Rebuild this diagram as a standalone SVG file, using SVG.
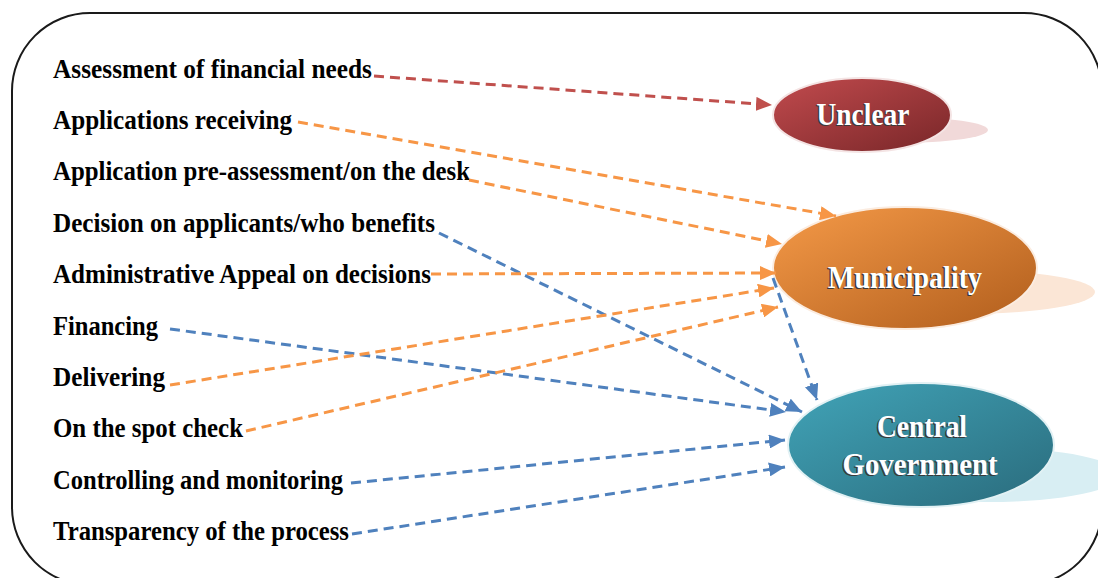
<svg xmlns="http://www.w3.org/2000/svg" width="1098" height="578" viewBox="0 0 1098 578">
<style>
.lbl{font-family:"Liberation Serif","Times New Roman",serif;font-weight:bold;font-size:27px;fill:#000}
.nt{font-family:"Liberation Serif","Times New Roman",serif;font-weight:bold;font-size:31px;text-anchor:middle}
.ns{fill:#3a3a3a}
.nw{fill:#ffffff}
.c{fill:none;stroke-width:3;stroke-dasharray:10 6}
.r{stroke:#c0504d}
.o{stroke:#f79646}
.b{stroke:#4f81bd}
</style>
<defs>
<marker id="ar" viewBox="0 0 16 14" refX="16" refY="7" markerWidth="16" markerHeight="14" markerUnits="userSpaceOnUse" orient="auto"><path d="M0,0 L16,7 L0,14 z" fill="#c0504d"/></marker>
<marker id="ao" viewBox="0 0 16 14" refX="16" refY="7" markerWidth="16" markerHeight="14" markerUnits="userSpaceOnUse" orient="auto"><path d="M0,0 L16,7 L0,14 z" fill="#f79646"/></marker>
<marker id="ab" viewBox="0 0 16 14" refX="16" refY="7" markerWidth="16" markerHeight="14" markerUnits="userSpaceOnUse" orient="auto"><path d="M0,0 L16,7 L0,14 z" fill="#4f81bd"/></marker>
<linearGradient id="gr" x1="0" y1="0" x2="1" y2="1"><stop offset="0" stop-color="#c24b4e"/><stop offset="1" stop-color="#782628"/></linearGradient>
<linearGradient id="go" x1="0" y1="0" x2="1" y2="1"><stop offset="0" stop-color="#f59a48"/><stop offset="1" stop-color="#b05d1c"/></linearGradient>
<linearGradient id="gb" x1="0" y1="0" x2="1" y2="1"><stop offset="0" stop-color="#41a4b8"/><stop offset="1" stop-color="#2a6b7c"/></linearGradient>
</defs>
<rect x="12" y="13" width="1090" height="572" rx="78" ry="78" fill="#ffffff" stroke="#1a1a1a" stroke-width="2"/>
<g id="labels">
<text class="lbl" x="53" y="78" textLength="319" lengthAdjust="spacingAndGlyphs">Assessment of financial needs</text>
<text class="lbl" x="53" y="129" textLength="239" lengthAdjust="spacingAndGlyphs">Applications receiving</text>
<text class="lbl" x="53" y="180" textLength="417" lengthAdjust="spacingAndGlyphs">Application pre-assessment/on the desk</text>
<text class="lbl" x="53" y="232" textLength="382" lengthAdjust="spacingAndGlyphs">Decision on applicants/who benefits</text>
<text class="lbl" x="53" y="283" textLength="378" lengthAdjust="spacingAndGlyphs">Administrative Appeal on decisions</text>
<text class="lbl" x="53" y="335" textLength="105" lengthAdjust="spacingAndGlyphs">Financing</text>
<text class="lbl" x="53" y="386" textLength="112" lengthAdjust="spacingAndGlyphs">Delivering</text>
<text class="lbl" x="53" y="437" textLength="190" lengthAdjust="spacingAndGlyphs">On the spot check</text>
<text class="lbl" x="53" y="489" textLength="290" lengthAdjust="spacingAndGlyphs">Controlling and monitoring</text>
<text class="lbl" x="53" y="540" textLength="296" lengthAdjust="spacingAndGlyphs">Transparency of the process</text>
</g>
<g id="node-unclear">
<ellipse cx="898" cy="130" rx="90" ry="13" fill="#f1d9d9"/>
<ellipse cx="862" cy="115" rx="89" ry="37" fill="url(#gr)" stroke="#f4e4e4" stroke-width="2"/>
<text class="nt ns" x="861.5" y="126" textLength="93" lengthAdjust="spacingAndGlyphs">Unclear</text>
<text class="nt nw" x="863" y="125" textLength="93" lengthAdjust="spacingAndGlyphs">Unclear</text>
</g>
<g id="node-municipality">
<ellipse cx="965" cy="292" rx="130" ry="22" fill="#fbe6d6"/>
<ellipse cx="905" cy="268" rx="132" ry="61" fill="url(#go)" stroke="#fbece0" stroke-width="2"/>
<text class="nt ns" x="903.5" y="289" textLength="154" lengthAdjust="spacingAndGlyphs">Municipality</text>
<text class="nt nw" x="905" y="288" textLength="154" lengthAdjust="spacingAndGlyphs">Municipality</text>
</g>
<g id="node-central">
<ellipse cx="990" cy="475" rx="130" ry="27" fill="#d8eef3"/>
<ellipse cx="921" cy="445" rx="133" ry="62" fill="url(#gb)" stroke="#e2f1f4" stroke-width="2"/>
<text class="nt ns" x="920.5" y="438" textLength="90" lengthAdjust="spacingAndGlyphs">Central</text>
<text class="nt nw" x="922" y="437" textLength="90" lengthAdjust="spacingAndGlyphs">Central</text>
<text class="nt ns" x="918.5" y="476" textLength="155" lengthAdjust="spacingAndGlyphs">Government</text>
<text class="nt nw" x="920" y="475" textLength="155" lengthAdjust="spacingAndGlyphs">Government</text>
</g>
<g id="connectors">
<line class="c r" x1="374" y1="76" x2="772" y2="105" marker-end="url(#ar)"/>
<line class="c o" x1="298" y1="122" x2="836" y2="216" marker-end="url(#ao)"/>
<line class="c o" x1="469" y1="180" x2="782" y2="244" marker-end="url(#ao)"/>
<line class="c b" x1="439" y1="233" x2="802" y2="412" marker-end="url(#ab)"/>
<line class="c o" x1="431" y1="274" x2="776" y2="273" marker-end="url(#ao)"/>
<line class="c b" x1="170" y1="329" x2="786" y2="412" marker-end="url(#ab)"/>
<line class="c o" x1="170" y1="385" x2="774" y2="288" marker-end="url(#ao)"/>
<line class="c o" x1="246" y1="431" x2="778" y2="307" marker-end="url(#ao)"/>
<line class="c b" x1="773" y1="278" x2="817" y2="400" marker-end="url(#ab)"/>
<line class="c b" x1="351" y1="483" x2="785" y2="440" marker-end="url(#ab)"/>
<line class="c b" x1="352" y1="534" x2="785" y2="467" marker-end="url(#ab)"/>
</g>
</svg>
